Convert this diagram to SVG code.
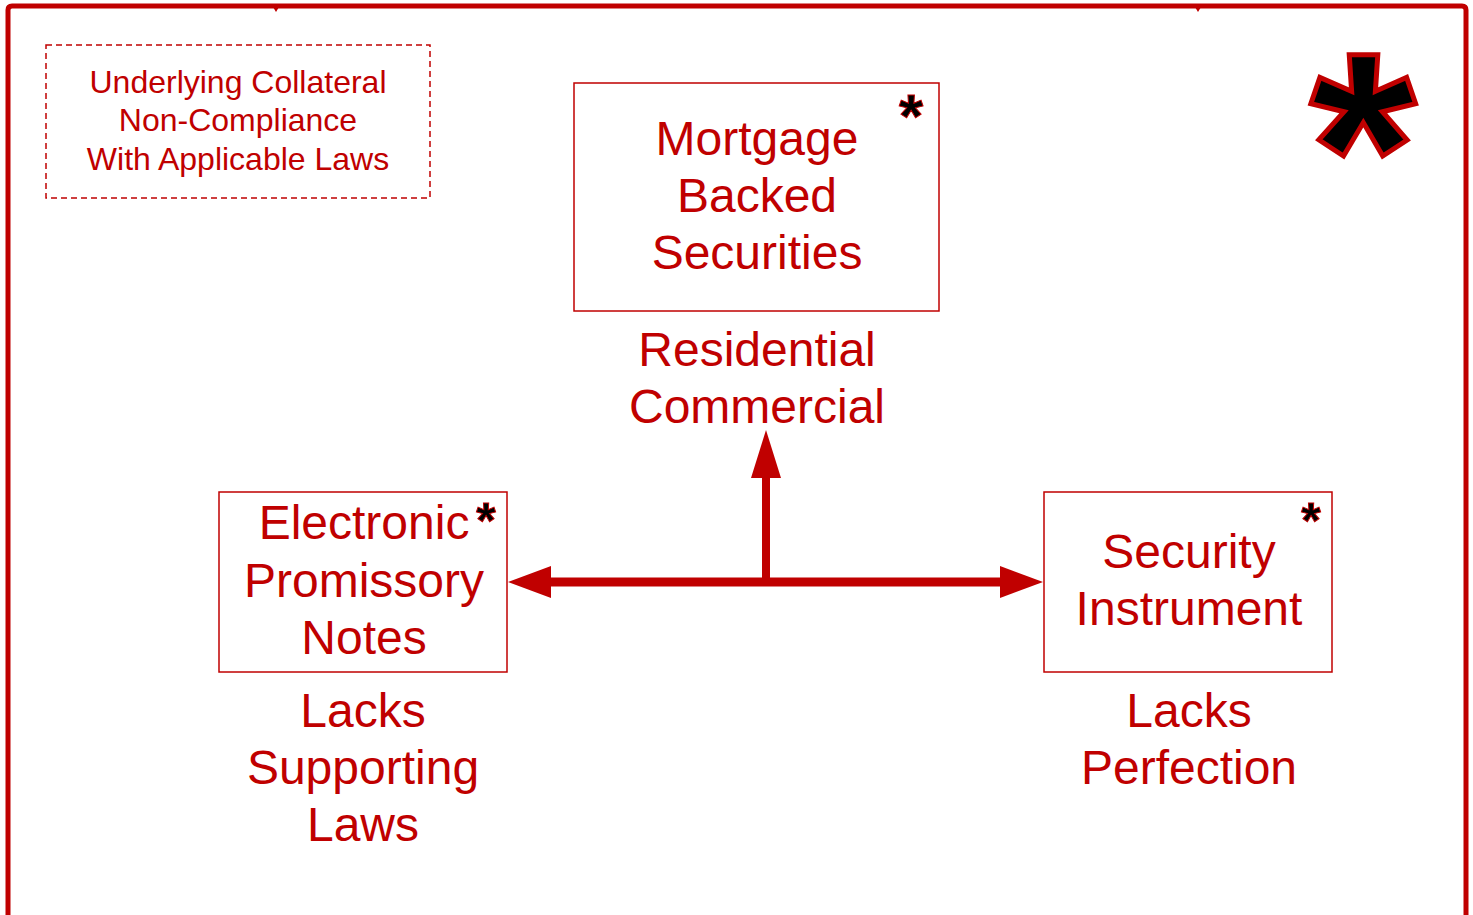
<svg xmlns="http://www.w3.org/2000/svg" width="1473" height="915" viewBox="0 0 1473 915">
<style>
.t{font-family:"Liberation Sans",Arial,sans-serif;fill:#c00000;text-anchor:middle}
.big{font-size:48px}
.small{font-size:32px}
.box{fill:#fff;stroke:#c00000;stroke-width:1.5}
.ast{font-family:"Liberation Sans",Arial,sans-serif;fill:#000;stroke:#c00000;text-anchor:middle;font-weight:bold}
</style>
<rect width="1473" height="915" fill="#fff"/>
<g id="frame">
<path d="M8,915 V10 Q8,6 12,6 H1462 Q1466,6 1466,10 V915" fill="none" stroke="#c00000" stroke-width="5"/>
<path d="M273,7 L279,7 L276,12 z" fill="#c00000"/>
<path d="M1195,7 L1201,7 L1198,12 z" fill="#c00000"/>
<text class="ast" x="1363" y="242" font-size="272" stroke-width="5">*</text>
</g>
<g id="note">
<rect x="46" y="45" width="384" height="153" fill="none" stroke="#c00000" stroke-width="1.5" stroke-dasharray="6,4"/>
<text class="t small" x="238" y="93">Underlying Collateral</text>
<text class="t small" x="238" y="131">Non-Compliance</text>
<text class="t small" x="238" y="170">With Applicable Laws</text>
</g>
<g id="connectors">
<line x1="548" y1="582" x2="1003" y2="582" stroke="#c00000" stroke-width="9"/>
<line x1="766" y1="582" x2="766" y2="474" stroke="#c00000" stroke-width="8"/>
<path d="M508,582 L551,566 L551,598 z" fill="#c00000"/>
<path d="M1043,582 L1000,566 L1000,598 z" fill="#c00000"/>
<path d="M766,430 L751,478 L781,478 z" fill="#c00000"/>
</g>
<g id="mbs">
<rect class="box" x="574" y="83" width="365" height="228"/>
<text class="t big" x="757" y="155">Mortgage</text>
<text class="t big" x="757" y="212">Backed</text>
<text class="t big" x="757" y="269">Securities</text>
<text class="ast" x="911" y="137" font-size="62" stroke-width="1">*</text>
<text class="t big" x="757" y="366">Residential</text>
<text class="t big" x="757" y="423">Commercial</text>
</g>
<g id="notes">
<rect class="box" x="219" y="492" width="288" height="180"/>
<text class="t big" x="364" y="539">Electronic</text>
<text class="t big" x="364" y="597">Promissory</text>
<text class="t big" x="364" y="654">Notes</text>
<text class="ast" x="486" y="538" font-size="50" stroke-width="1">*</text>
<text class="t big" x="363" y="727">Lacks</text>
<text class="t big" x="363" y="784">Supporting</text>
<text class="t big" x="363" y="841">Laws</text>
</g>
<g id="security">
<rect class="box" x="1044" y="492" width="288" height="180"/>
<text class="t big" x="1189" y="568">Security</text>
<text class="t big" x="1189" y="625">Instrument</text>
<text class="ast" x="1311" y="538" font-size="50" stroke-width="1">*</text>
<text class="t big" x="1189" y="727">Lacks</text>
<text class="t big" x="1189" y="784">Perfection</text>
</g>
</svg>
